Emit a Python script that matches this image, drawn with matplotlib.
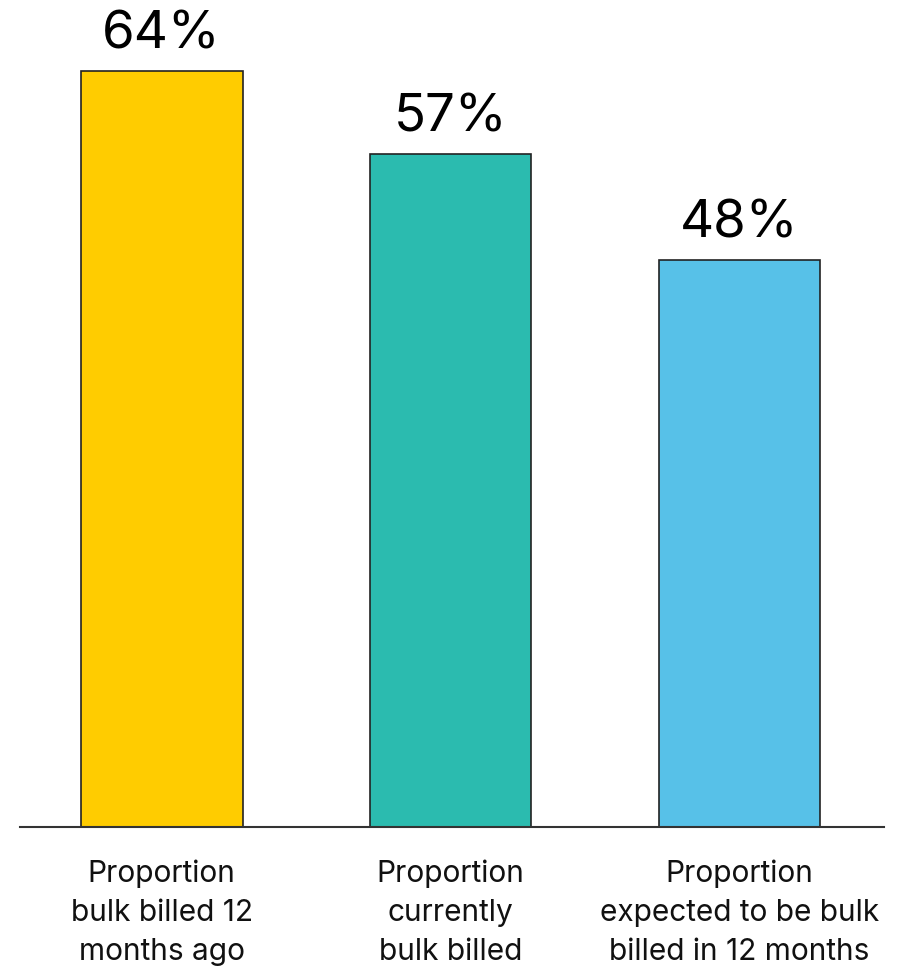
import matplotlib
matplotlib.use("Agg")
import matplotlib.pyplot as plt

categories = ["Proportion\nbulk billed 12\nmonths ago",
              "Proportion\ncurrently\nbulk billed",
              "Proportion\nexpected to be bulk\nbilled in 12 months"]
values = [64, 57, 48]
colors = ["#FFCC00", "#2BBBAF", "#57C1E8"]

plt.rcParams['font.family'] = ['Inter', 'DejaVu Sans']

fig = plt.figure(figsize=(9.03, 9.70), dpi=100)
ax = fig.add_axes([20/903, 1 - 828/970, 864/903, 828/970])
x = list(range(len(values)))
bars = ax.bar(x, values, width=0.56, color=colors, edgecolor="#222222", linewidth=1.2, zorder=2)
ax.set_xlim(-0.49, 2.50)
ax.set_ylim(0, 70.1)
for s in ["top", "right", "left"]:
    ax.spines[s].set_visible(False)
ax.spines["bottom"].set_color("#333333")
ax.spines["bottom"].set_linewidth(1.5)
ax.set_yticks([])
ax.set_xticks(x)
ax.set_xticklabels(categories, fontsize=21.5, linespacing=1.5, color="#111111")
ax.tick_params(axis="x", length=0, pad=23)
for xi, v in zip(x, values):
    ax.annotate(f"{v}%", (xi, v), xytext=(0, 9), textcoords="offset points",
                ha="center", va="bottom", fontsize=38, color="#000000", clip_on=False)
fig.savefig("out.png", dpi=100)
